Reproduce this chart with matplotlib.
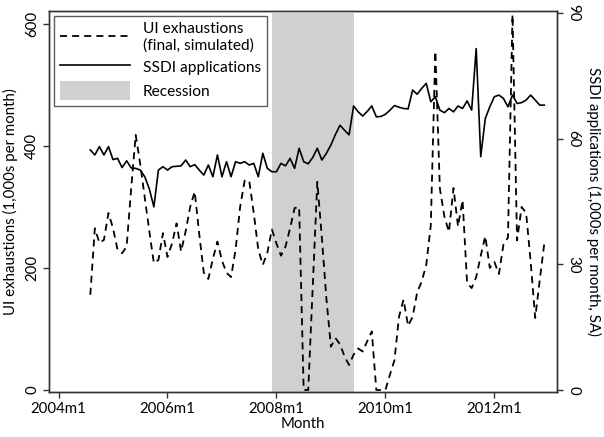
import matplotlib
matplotlib.use("Agg")
import matplotlib.pyplot as plt
import numpy as np
from matplotlib.patches import Patch
from matplotlib.lines import Line2D

plt.rcParams['font.family'] = ['Lato', 'DejaVu Sans']

# months indexed from 2004m1 = 0
start_month = 7  # 2004m8
ui_exhaustions = [156, 265, 241, 246, 290, 265, 230, 224, 235, 330,
                  418, 370, 315, 260, 208, 213, 257, 218, 240, 273,
                  227, 260, 300, 325, 255, 192, 182, 215, 243, 212,
                  192, 185, 230, 300, 343, 343, 290, 230, 205, 225,
                  263, 240, 220, 235, 265, 298, 300, 0, 0, 170,
                  341, 250, 150, 71, 85, 75, 55, 41, 58, 68,
                  63, 80, 96, 0, 0, 0, 25, 49, 120, 148,
                  105, 120, 160, 178, 205, 270, 555, 330, 284, 259,
                  331, 268, 311, 175, 167, 185, 220, 252, 200, 210,
                  190, 238, 250, 615, 245, 300, 290, 210, 118, 180,
                  240]
ssdi_apps = [57.3, 56.1, 58.1, 56.1, 58.1, 55.0, 55.3, 53.1, 54.7, 53.0,
             52.9, 52.5, 50.9, 48.0, 43.7, 52.5, 53.3, 52.5, 53.3, 53.4,
             53.5, 54.9, 53.3, 53.8, 52.5, 51.3, 53.7, 50.9, 56.1, 50.9,
             54.5, 50.9, 54.5, 54.1, 54.5, 53.7, 54.1, 50.9, 56.5, 52.9,
             52.1, 52.1, 54.1, 53.5, 55.3, 52.9, 57.7, 54.5, 54.0, 55.5,
             57.7, 54.9, 56.5, 58.5, 61.0, 63.2, 62.0, 60.9, 67.8, 66.4,
             65.4, 66.5, 67.8, 65.2, 65.3, 65.8, 66.8, 67.9, 67.5, 67.2,
             67.1, 71.6, 70.6, 72.0, 73.2, 68.8, 70.0, 66.8, 66.2, 67.2,
             66.4, 67.8, 67.2, 69.0, 66.8, 81.5, 55.7, 64.8, 67.6, 70.0,
             70.4, 69.6, 67.6, 70.4, 68.4, 68.6, 69.2, 70.4, 69.2, 68.0,
             68.0]
recession = (47, 65)  # 2007m12 - 2009m6
xtick_pos = [0, 24, 48, 72, 96]
xtick_labels = ["2004m1", "2006m1", "2008m1", "2010m1", "2012m1"]
left_ticks = [0, 200, 400, 600]
right_ticks = [0, 30, 60, 90]

months = np.arange(start_month, start_month + len(ui_exhaustions))

fig = plt.figure(figsize=(6.04, 4.37), dpi=100)
ax = fig.add_axes([49/604, 1 - 392/437, (557-49)/604, (392-11)/437])
ax2 = ax.twinx()
ax.set_zorder(ax2.get_zorder() + 1)
ax.patch.set_visible(False)

shade_color = "#d0d0d0"
dash = (3.9, 2.8)
ax2.fill_between(list(recession), -1, 90, color=shade_color, lw=0, zorder=0)
ax2.plot(months, ssdi_apps, color="black", lw=1.2, zorder=2)
ax.plot(months, ui_exhaustions, color="black", lw=1.3, dashes=dash, zorder=3)

ax.set_xlim(-2.1, 109.8)
ax.set_ylim(-3.3, 621)
ax2.set_ylim(-0.48, 90.47)

fs = 10.8
ax.set_xticks(xtick_pos)
ax.set_xticklabels(xtick_labels, fontsize=fs)
ax.set_yticks(left_ticks)
ax.set_yticklabels([str(v) for v in left_ticks], fontsize=fs, rotation=90, va="center")
ax2.set_yticks(right_ticks)
ax2.set_yticklabels([str(v) for v in right_ticks], fontsize=fs, rotation=270, va="center")

for a in (ax, ax2):
    for s in a.spines.values():
        s.set_color("#333333")
        s.set_linewidth(1.0)
    a.tick_params(direction="out", length=4, width=1.0, color="#333333", pad=3)

ax.set_xlabel("Month", fontsize=fs, labelpad=1)
ax.set_ylabel("UI exhaustions (1,000s per month)", fontsize=fs, labelpad=5)
ax2.set_ylabel("SSDI applications (1,000s per month, SA)", fontsize=fs, rotation=270, labelpad=15)

handles = [Line2D([], [], color="black", lw=1.3, dashes=dash),
           Line2D([], [], color="black", lw=1.2),
           Patch(facecolor=shade_color, edgecolor="none")]
labels = ["UI exhaustions\n(final, simulated)", "SSDI applications", "Recession"]
leg = ax.legend(handles, labels, loc="upper left", bbox_to_anchor=(0.01, 0.987),
                fontsize=11.2, frameon=True, fancybox=False, handlelength=4.5,
                handleheight=1.45, borderpad=0.4, labelspacing=0.32,
                handletextpad=0.8, borderaxespad=0)
leg.get_frame().set_edgecolor("#333333")
leg.get_frame().set_linewidth(1.0)

fig.savefig("out.png", dpi=100)
